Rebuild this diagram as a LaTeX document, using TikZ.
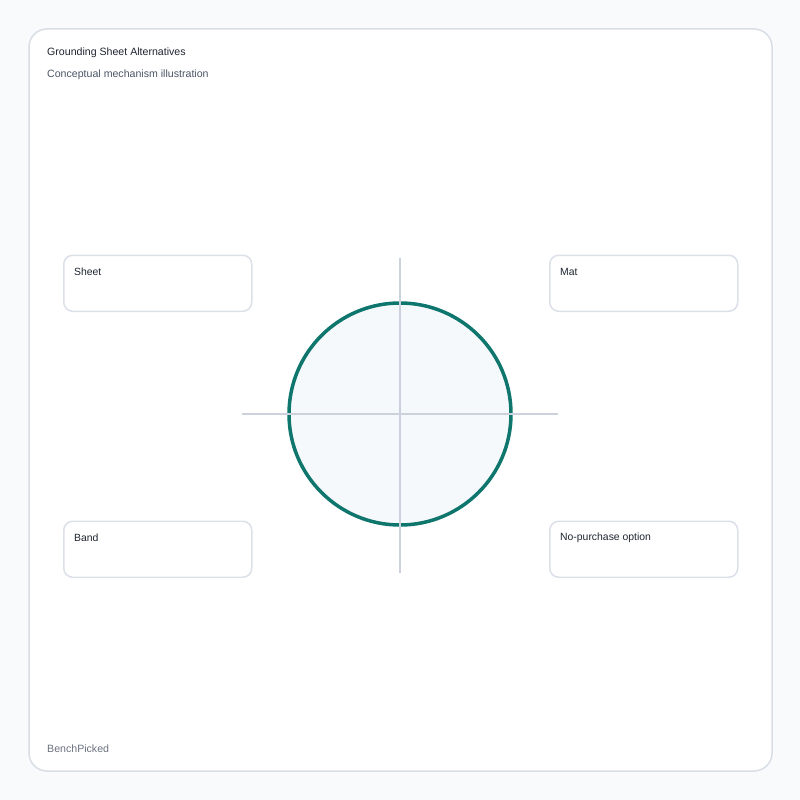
\documentclass[tikz,border=0pt]{standalone}
\usepackage{fontspec}
\setmainfont{Liberation Sans}
\usetikzlibrary{calc}
\definecolor{pagebg}{HTML}{F8FAFC}
\definecolor{cardborder}{HTML}{D9DDE6}
\definecolor{boxborder}{HTML}{DCE0E8}
\definecolor{teal}{HTML}{0F766E}
\definecolor{axisgray}{HTML}{CBD2DD}
\definecolor{titlec}{HTML}{1E2430}
\definecolor{subc}{HTML}{4B5565}
\definecolor{footc}{HTML}{6B7280}
\definecolor{circfill}{HTML}{F6F9FB}
\tikzset{
  optbox/.style={draw=boxborder, line width=1.5pt, fill=white, rounded corners=9pt,
    minimum width=188pt, minimum height=56pt, inner sep=0pt, anchor=north west},
  optlabel/.style={anchor=west, font=\fontsize{10.4}{12}\selectfont, text=titlec, inner sep=0pt},
  axisline/.style={draw=axisgray, line width=2pt}
}
\begin{document}
\begin{tikzpicture}[x=1pt,y=-1pt]
\useasboundingbox (0,0) rectangle (800,800);
\fill[pagebg] (0,0) rectangle (800,800);
\draw[cardborder, line width=1.5pt, fill=white, rounded corners=18pt] (29,29) rectangle (772,771);
\node[anchor=west, inner sep=0pt, font=\fontsize{10.6}{12}\selectfont, text=titlec] (title) at (47,52.5) {Grounding Sheet Alternatives};
\node[anchor=west, inner sep=0pt, font=\fontsize{10.6}{12}\selectfont, text=subc] (subtitle) at (47,74.5) {Conceptual mechanism illustration};
\node[anchor=west, inner sep=0pt, font=\fontsize{10.6}{12}\selectfont, text=footc] (footer) at (47,748.5) {BenchPicked};
% boxes
\node[optbox] (sheet) at (63,254.5) {};
\node[optbox] (mat) at (549,254.5) {};
\node[optbox] (band) at (63,520.5) {};
\node[optbox] (nopurch) at (549,520.5) {};
\node[optlabel] (sheetL) at ($(sheet.north west)+(11,17)$) {Sheet};
\node[optlabel] (matL) at ($(mat.north west)+(11,17)$) {Mat};
\node[optlabel] (bandL) at ($(band.north west)+(11,17)$) {Band};
\node[optlabel] (nopurchL) at ($(nopurch.north west)+(11,17)$) {No-purchase option};
% circle
\node[circle, draw=teal, line width=3.5pt, fill=circfill, minimum size=222pt, inner sep=0pt] (core) at (400,414) {};
\coordinate (hl) at (242,414);
\coordinate (hr) at (558,414);
\coordinate (vt) at (400,258);
\coordinate (vb) at (400,573);
\draw[axisline] (hl) -- (hr);
\draw[axisline] (vt) -- (vb);
\end{tikzpicture}
\end{document}
